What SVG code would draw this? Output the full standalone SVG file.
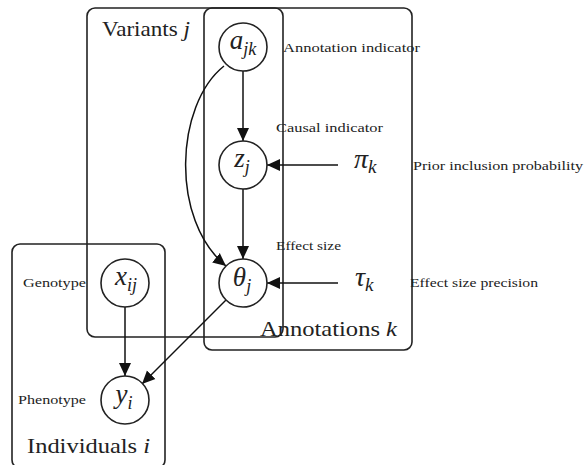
<svg xmlns="http://www.w3.org/2000/svg" width="585" height="465" viewBox="0 0 585 465">
<style>
.plate{fill:none;stroke:#222;stroke-width:1.6}
.node circle{fill:#fff;stroke:#222;stroke-width:1.6}
.edge{fill:none;stroke:#111;stroke-width:1.5}
.lbl{font-family:"Liberation Serif",serif;font-size:13px;fill:#222}
.big{font-family:"Liberation Serif",serif;font-size:21px;fill:#222}
.math{font-family:"Liberation Serif",serif;font-style:italic;fill:#222}
</style>
<defs>
<marker id="ah" markerUnits="userSpaceOnUse" markerWidth="14" markerHeight="14" refX="13" refY="7" orient="auto">
<path d="M0,1 L13,7 L0,13 z" fill="#111"/>
</marker>
</defs>
<rect width="585" height="465" fill="#fff"/>
<g id="plates">
<rect class="plate" x="87" y="8" width="196" height="329" rx="8"/>
<rect class="plate" x="204" y="8" width="208" height="342" rx="8"/>
<rect class="plate" x="12" y="244" width="153" height="224" rx="8"/>
<text class="big" x="102" y="36" textLength="88" lengthAdjust="spacingAndGlyphs">Variants <tspan font-style="italic">j</tspan></text>
<text class="big" x="260" y="336" textLength="137" lengthAdjust="spacingAndGlyphs">Annotations <tspan font-style="italic">k</tspan></text>
<text class="big" x="27" y="453" textLength="123" lengthAdjust="spacingAndGlyphs">Individuals <tspan font-style="italic">i</tspan></text>
</g>
<g id="edges">
<line class="edge" x1="243" y1="71" x2="243" y2="141" marker-end="url(#ah)"/>
<line class="edge" x1="243" y1="189" x2="243" y2="259" marker-end="url(#ah)"/>
<path class="edge" d="M224,66 C175,105 170,220 226,266" marker-end="url(#ah)"/>
<line class="edge" x1="338" y1="165" x2="267" y2="165" marker-end="url(#ah)"/>
<line class="edge" x1="338" y1="283" x2="267" y2="283" marker-end="url(#ah)"/>
<line class="edge" x1="125" y1="307" x2="125" y2="376" marker-end="url(#ah)"/>
<line class="edge" x1="226" y1="300" x2="142" y2="384" marker-end="url(#ah)"/>
</g>
<g id="a_jk" class="node">
<circle cx="243" cy="47" r="24"/>
<text class="math" x="243" y="49" text-anchor="middle" font-size="27">a<tspan font-size="18" dy="6">jk</tspan></text>
<text class="lbl" x="283" y="52" textLength="137" lengthAdjust="spacingAndGlyphs">Annotation indicator</text>
</g>
<g id="z_j" class="node">
<circle cx="243" cy="165" r="24"/>
<text class="math" x="242" y="167" text-anchor="middle" font-size="27">z<tspan font-size="18" dy="6">j</tspan></text>
<text class="lbl" x="276" y="132" textLength="107" lengthAdjust="spacingAndGlyphs">Causal indicator</text>
</g>
<g id="theta_j" class="node">
<circle cx="243" cy="283" r="24"/>
<text class="math" x="242" y="286" text-anchor="middle" font-size="27">θ<tspan font-size="18" dy="6">j</tspan></text>
<text class="lbl" x="276" y="250" textLength="65" lengthAdjust="spacingAndGlyphs">Effect size</text>
</g>
<g id="x_ij" class="node">
<circle cx="125" cy="283" r="24"/>
<text class="math" x="126" y="285" text-anchor="middle" font-size="27">x<tspan font-size="18" dy="6">ij</tspan></text>
<text class="lbl" x="23" y="287" textLength="63" lengthAdjust="spacingAndGlyphs">Genotype</text>
</g>
<g id="y_i" class="node">
<circle cx="125" cy="400" r="24"/>
<text class="math" x="124" y="403" text-anchor="middle" font-size="27">y<tspan font-size="18" dy="6">i</tspan></text>
<text class="lbl" x="18" y="404" textLength="68" lengthAdjust="spacingAndGlyphs">Phenotype</text>
</g>
<g id="pi_k">
<text class="math" x="354" y="168" font-size="28">π<tspan font-size="19" dy="5">k</tspan></text>
<text class="lbl" x="413" y="170" textLength="170" lengthAdjust="spacingAndGlyphs">Prior inclusion probability</text>
</g>
<g id="tau_k">
<text class="math" x="355" y="286" font-size="28">τ<tspan font-size="19" dy="5">k</tspan></text>
<text class="lbl" x="410" y="287" textLength="128" lengthAdjust="spacingAndGlyphs">Effect size precision</text>
</g>
</svg>
